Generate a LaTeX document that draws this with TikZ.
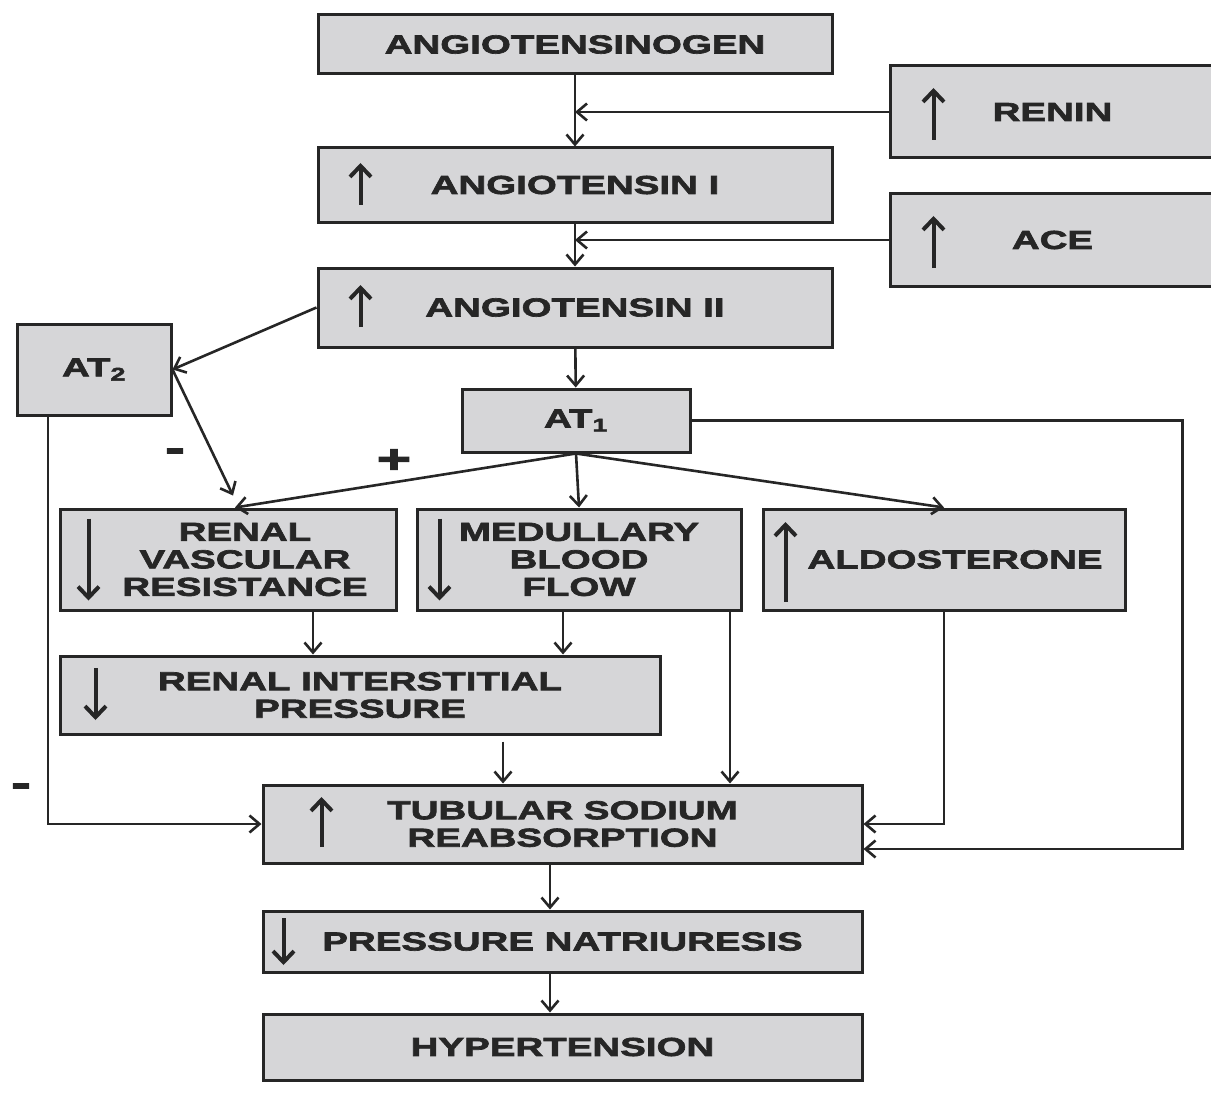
\documentclass[tikz,border=0pt]{standalone}
\usepackage{fontspec}
\newfontfamily\boxfont{Liberation Sans}[FakeStretch=1.48,FakeBold=2.6]
\usetikzlibrary{arrows.meta,calc}
\usepackage{xcolor}
\definecolor{boxfill}{HTML}{D6D6D8}
\definecolor{ink}{HTML}{262626}
\tikzset{
  boxtext/.style={inner sep=0pt, align=center, text=ink, font=\boxfont\bfseries\fontsize{26}{27.5}\selectfont},
  box/.style={boxtext, draw=ink, line width=3pt, fill=boxfill},
  arr/.style={-{Straight Barb[length=10pt,width=17pt]}, line width=2.6pt, draw=ink},
  updn/.style={-{Straight Barb[length=11pt,width=21pt]}, line width=4pt, draw=ink},
  sign/.style={inner sep=0pt, text=ink, font=\boxfont\bfseries\fontsize{40}{40}\selectfont}
}
\begin{document}
\begin{tikzpicture}[x=1pt, y=1pt]
  \useasboundingbox (0,0) rectangle (1211,-1097);
  % upper chain
  \node[box, minimum width=514pt, minimum height=59pt] (agen) at (575,-44.5) {ANGIOTENSINOGEN};
  \node[box, minimum width=325pt, minimum height=92pt] (renin) at (1052.5,-112) {RENIN};
  \node[box, minimum width=514pt, minimum height=74pt] (ang1) at (575,-185) {ANGIOTENSIN I};
  \node[box, minimum width=325pt, minimum height=92pt] (ace) at (1052.5,-240) {ACE};
  \node[box, minimum width=514pt, minimum height=79pt] (ang2) at (575,-307.5) {ANGIOTENSIN II};
  \node[box, minimum width=154pt, minimum height=91pt] (at2) at (94,-369.5) {AT\textsubscript{2}};
  \node[box, minimum width=228pt, minimum height=63pt] (at1) at (576,-420.5) {AT\textsubscript{1}};
  % effects
  \node[box, minimum width=336pt, minimum height=101pt] (rvr) at (228,-559.5) {};
  \node[boxtext] (rvrtext) at ([xshift=17pt]rvr.center) {RENAL\\VASCULAR\\RESISTANCE};
  \node[box, minimum width=324pt, minimum height=101pt] (mbf) at (579,-559.5) {MEDULLARY\\BLOOD\\FLOW};
  \node[box, minimum width=362pt, minimum height=101pt] (ald) at (944,-559.5) {};
  \node[boxtext] (aldtext) at ([xshift=11pt]ald.center) {ALDOSTERONE};
  \node[box, minimum width=600pt, minimum height=78pt] (rip) at (360,-695) {RENAL INTERSTITIAL\\PRESSURE};
  \node[box, minimum width=599pt, minimum height=78pt] (tsr) at (562.5,-824) {TUBULAR SODIUM\\REABSORPTION};
  \node[box, minimum width=599pt, minimum height=61pt] (pn) at (562.5,-941.5) {PRESSURE NATRIURESIS};
  \node[box, minimum width=599pt, minimum height=66pt] (hyp) at (562.5,-1047) {HYPERTENSION};
  % up and down marks inside the boxes
  \draw[updn] ($(renin.west)+(45,-28)$) -- ++(0,52);
  \draw[updn] ($(ang1.west)+(44,-20)$) -- ++(0,42);
  \draw[updn] ($(ace.west)+(45,-28)$) -- ++(0,52);
  \draw[updn] ($(ang2.west)+(44,-19.5)$) -- ++(0,42);
  \draw[updn] ($(rvr.west)+(30,41)$) -- ++(0,-82);
  \draw[updn] ($(mbf.west)+(24,41)$) -- ++(0,-82);
  \draw[updn] ($(ald.west)+(24,-42.5)$) -- ++(0,80);
  \draw[updn] ($(rip.west)+(37,27)$) -- ++(0,-52);
  \draw[updn] ($(tsr.west)+(60,-23)$) -- ++(0,50);
  \draw[updn] ($(pn.west)+(22,23.5)$) -- ++(0,-47);
  % connectors
  \draw[arr] (agen) -- (ang1);
  \draw[arr] (renin.west) -- (renin.west -| agen.south);
  \draw[arr] (ang1) -- (ang2);
  \draw[arr] (ace.west) -- (ace.west -| ang1.south);
  \draw[arr] (ang2.west) -- (at2.east);
  \draw[arr] (ang2) -- (at1);
  \draw[arr] (at2.east) -- ([shift={(5pt,12pt)}]rvr.north);
  \draw[arr] (at1.south) -- ([xshift=7pt]rvr.north);
  \draw[arr] (at1.south) -- (mbf.north);
  \draw[arr] (at1.south) -- (ald.north);
  \draw[arr] (at1.east) -| ([shift={(319pt,-25pt)}]tsr.east) -- ([yshift=-25pt]tsr.east);
  \draw[arr] ([xshift=-46pt]at2.south) |- (tsr.west);
  \draw[arr] ([xshift=85pt]rvr.south) -- ([xshift=85pt]rvr.south |- rip.north);
  \draw[arr] ([xshift=-16pt]mbf.south) -- ([xshift=-16pt]mbf.south |- rip.north);
  \draw[arr] ([xshift=151pt]mbf.south) -- ([xshift=151pt]mbf.south |- tsr.north);
  \draw[arr] ([shift={(143pt,-6pt)}]rip.south) -- ([xshift=143pt]rip.south |- tsr.north);
  \draw[arr] (ald.south) |- (tsr.east);
  \draw[arr] ([xshift=-12.5pt]tsr.south) -- ([xshift=-12.5pt]pn.north);
  \draw[arr] ([xshift=-12.5pt]pn.south) -- ([xshift=-12.5pt]hyp.north);
  % signs
  \node[sign] (minusa) at (175,-455) {-};
  \node[sign] (plus) at (394,-461) {+};
  \node[sign] (minusb) at (21,-790) {-};
\end{tikzpicture}
\end{document}
